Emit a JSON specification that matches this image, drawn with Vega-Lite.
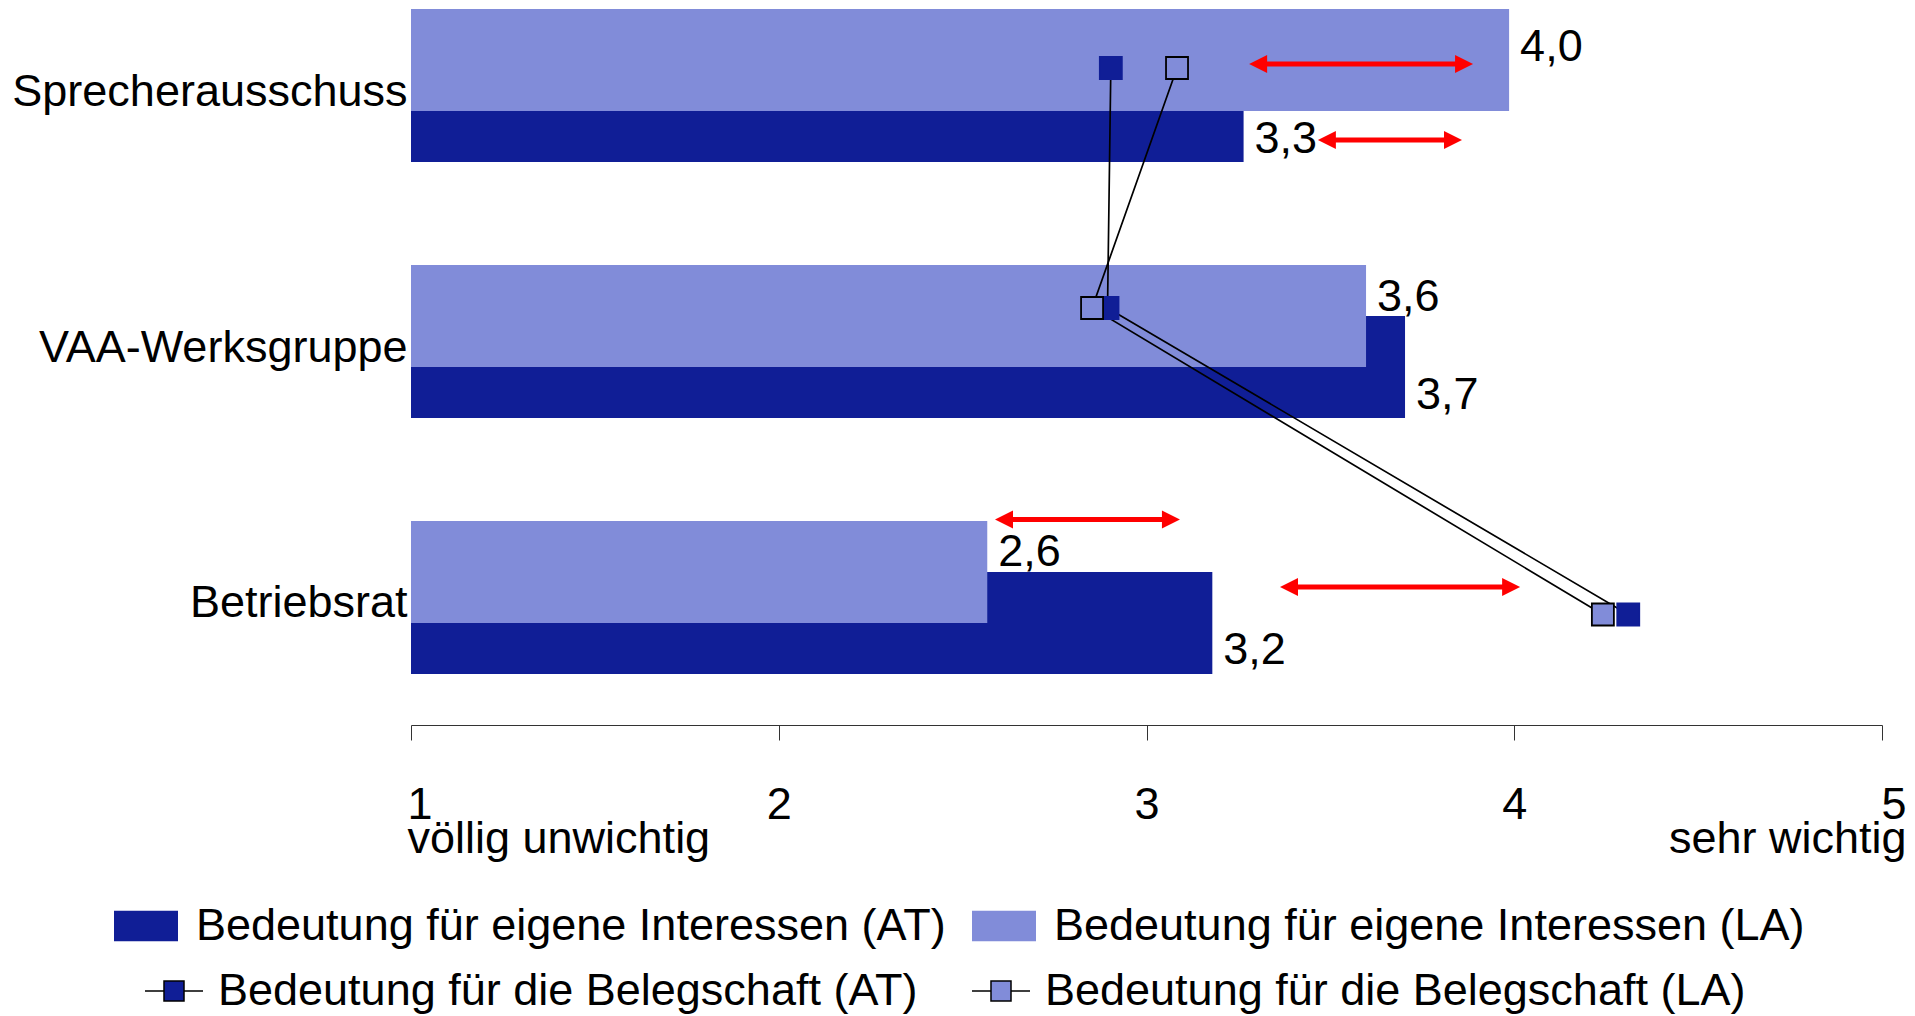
{
  "$schema": "https://vega.github.io/schema/vega-lite/v6.json",
  "width": 1471,
  "height": 683,
  "padding": {"left": 11, "top": 0, "right": 0, "bottom": 0},
  "background": "white",
  "config": {
    "font": "Liberation Sans",
    "view": {"stroke": null},
    "locale": {"number": {"decimal": ",", "thousands": ".", "grouping": [3], "currency": ["", " €"]}}
  },
  "datasets": {
    "interessen": [
      {"cat": "Sprecherausschuss", "grp": "AT", "value": 3.264},
      {"cat": "VAA-Werksgruppe", "grp": "AT", "value": 3.703},
      {"cat": "Betriebsrat", "grp": "AT", "value": 3.179},
      {"cat": "Sprecherausschuss", "grp": "LA", "value": 3.986},
      {"cat": "VAA-Werksgruppe", "grp": "LA", "value": 3.597},
      {"cat": "Betriebsrat", "grp": "LA", "value": 2.567}
    ],
    "belegschaft": [
      {"cat": "Sprecherausschuss", "grp": "AT", "value": 2.903},
      {"cat": "VAA-Werksgruppe", "grp": "AT", "value": 2.894},
      {"cat": "Betriebsrat", "grp": "AT", "value": 4.31},
      {"cat": "Sprecherausschuss", "grp": "LA", "value": 3.083},
      {"cat": "VAA-Werksgruppe", "grp": "LA", "value": 2.852},
      {"cat": "Betriebsrat", "grp": "LA", "value": 4.241}
    ],
    "pfeile": [
      {"cat": "Sprecherausschuss", "grp": "LA", "from": 3.279, "to": 3.888},
      {"cat": "Sprecherausschuss", "grp": "AT", "from": 3.466, "to": 3.858},
      {"cat": "Betriebsrat", "grp": "LA", "from": 2.588, "to": 3.091},
      {"cat": "Betriebsrat", "grp": "AT", "from": 3.363, "to": 4.016}
    ]
  },
  "encoding": {
    "y": {
      "field": "cat", "type": "nominal", "title": null,
      "sort": ["Sprecherausschuss", "VAA-Werksgruppe", "Betriebsrat"],
      "scale": {"type": "band", "paddingInner": 0.5, "paddingOuter": 0.084},
      "axis": {"ticks": false, "tickSize": 0, "domain": false, "labelFontSize": 45, "labelColor": "black", "labelPadding": 4, "labelOffset": 6, "labelLimit": 1000}
    }
  },
  "resolve": {"scale": {"fill": "independent"}, "legend": {"fill": "independent"}},
  "layer": [
    {
      "layer": [
        {
          "data": {"name": "interessen"},
          "transform": [{"filter": "datum.grp === 'AT'"}],
          "mark": {"type": "bar", "size": 102, "yOffset": 25.5},
          "encoding": {
            "x": {
              "field": "value", "type": "quantitative", "title": null,
              "scale": {"domain": [1, 5], "nice": false, "zero": false},
              "axis": {
                "title": null, "values": [1, 2, 3, 4, 5], "format": "d", "grid": false, "offset": 42,
                "domainColor": "#333", "domainWidth": 1, "tickColor": "#333", "tickSize": 15, "tickWidth": 1,
                "labelFontSize": 45, "labelColor": "black", "labelPadding": 42, "labelLineHeight": 34,
                "labelFlush": false, "labelOverlap": false, "labelBound": false, "labelLimit": 1000,
                "labelExpr": "datum.value === 1 ? ['1', 'völlig unwichtig'] : datum.value === 5 ? ['5', 'sehr wichtig'] : datum.label",
                "labelAlign": {"condition": [{"test": "datum.value === 1", "value": "left"}, {"test": "datum.value === 5", "value": "right"}], "value": "center"},
                "labelOffset": {"condition": [{"test": "datum.value === 5", "value": 24}, {"test": "datum.value === 1", "value": -4}], "value": 0}
              }
            },
            "x2": {"datum": 1},
            "fill": {
              "field": "grp", "type": "nominal",
              "scale": {"domain": ["AT", "LA"], "range": ["#101e96", "#818cd9"]},
              "legend": {
                "title": null, "orient": "none", "legendX": -297, "legendY": 894, "direction": "horizontal",
                "symbolType": "M-1,-0.48H1V0.48H-1Z", "symbolSize": 4096, "symbolStrokeWidth": 0,
                "labelFontSize": 45, "labelColor": "black", "labelOffset": 18, "columnPadding": 26, "labelLimit": 2000,
                "labelExpr": "'Bedeutung für eigene Interessen (' + datum.label + ')'"
              }
            }
          }
        },
        {
          "data": {"name": "interessen"},
          "transform": [{"filter": "datum.grp === 'LA'"}],
          "mark": {"type": "bar", "size": 102, "yOffset": -25.5},
          "encoding": {
            "x": {"field": "value", "type": "quantitative", "title": null, "scale": {"domain": [1, 5], "nice": false, "zero": false}},
            "x2": {"datum": 1},
            "fill": {
              "field": "grp", "type": "nominal",
              "scale": {"domain": ["AT", "LA"], "range": ["#101e96", "#818cd9"]},
              "legend": {
                "title": null, "orient": "none", "legendX": -297, "legendY": 894, "direction": "horizontal",
                "symbolType": "M-1,-0.48H1V0.48H-1Z", "symbolSize": 4096, "symbolStrokeWidth": 0,
                "labelFontSize": 45, "labelColor": "black", "labelOffset": 18, "columnPadding": 26, "labelLimit": 2000,
                "labelExpr": "'Bedeutung für eigene Interessen (' + datum.label + ')'"
              }
            }
          }
        }
      ]
    },
    {
      "data": {"name": "interessen"},
      "mark": {
        "type": "text", "align": "left", "baseline": "middle", "dx": 11, "fontSize": 45, "color": "black",
        "yOffset": {"expr": "datum.grp === 'AT' ? 53 : (datum.cat === 'Sprecherausschuss' ? -39 : -45)"}
      },
      "encoding": {
        "x": {"field": "value", "type": "quantitative", "title": null, "scale": {"domain": [1, 5], "nice": false, "zero": false}},
        "text": {"field": "value", "type": "quantitative", "format": ".1f"}
      }
    },
    {
      "data": {"name": "belegschaft"},
      "mark": {
        "type": "line", "color": "black", "strokeWidth": 1.7, "orient": "horizontal",
        "yOffset": {"expr": "datum.cat === 'Sprecherausschuss' ? -17.5 : datum.cat === 'VAA-Werksgruppe' ? -33.5 : 17"}
      },
      "encoding": {
        "x": {"field": "value", "type": "quantitative", "title": null, "scale": {"domain": [1, 5], "nice": false, "zero": false}},
        "detail": {"field": "grp"}
      }
    },
    {
      "data": {"name": "belegschaft"},
      "mark": {
        "type": "point", "shape": "square", "filled": true, "size": 484, "strokeWidth": 1.8, "opacity": 1,
        "yOffset": {"expr": "datum.cat === 'Sprecherausschuss' ? -17.5 : datum.cat === 'VAA-Werksgruppe' ? -33.5 : 17"}
      },
      "encoding": {
        "x": {"field": "value", "type": "quantitative", "title": null, "scale": {"domain": [1, 5], "nice": false, "zero": false}},
        "fill": {
          "field": "grp", "type": "nominal",
          "scale": {"domain": ["AT", "LA"], "range": ["#101e96", "#818cd9"]},
          "legend": {
            "title": null, "orient": "none", "legendX": -267, "legendY": 961, "direction": "horizontal",
            "symbolType": "M-1,0H-0.345M0.345,0H1M-0.345,-0.345H0.345V0.345H-0.345Z", "symbolSize": 3364,
            "symbolStrokeColor": "black", "symbolStrokeWidth": 1.5,
            "labelFontSize": 45, "labelColor": "black", "labelOffset": 14, "columnPadding": 51, "labelLimit": 2000,
            "labelExpr": "'Bedeutung für die Belegschaft (' + datum.label + ')'",
            "encode": {"symbols": {"update": {"stroke": {"value": "black"}, "strokeWidth": {"value": 1.5}}}}
          }
        },
        "stroke": {"condition": {"test": "datum.grp === 'LA'", "value": "black"}, "value": "#101e96"}
      }
    },
    {
      "data": {"name": "pfeile"},
      "mark": {
        "type": "rule", "color": "#ff0000", "strokeWidth": 5, "xOffset": 9, "x2Offset": -9,
        "yOffset": {"expr": "datum.grp === 'LA' ? (datum.cat === 'Sprecherausschuss' ? -21.5 : -78) : (datum.cat === 'Sprecherausschuss' ? 54.5 : -10.5)"}
      },
      "encoding": {
        "x": {"field": "from", "type": "quantitative", "title": null, "scale": {"domain": [1, 5], "nice": false, "zero": false}},
        "x2": {"field": "to"}
      }
    },
    {
      "data": {"name": "pfeile"},
      "mark": {
        "type": "point", "shape": "M-1,0L1,-1L1,1Z", "filled": true, "color": "#ff0000", "size": 324, "opacity": 1, "strokeWidth": 0, "xOffset": 9,
        "yOffset": {"expr": "datum.grp === 'LA' ? (datum.cat === 'Sprecherausschuss' ? -21.5 : -78) : (datum.cat === 'Sprecherausschuss' ? 54.5 : -10.5)"}
      },
      "encoding": {
        "x": {"field": "from", "type": "quantitative", "title": null, "scale": {"domain": [1, 5], "nice": false, "zero": false}}
      }
    },
    {
      "data": {"name": "pfeile"},
      "mark": {
        "type": "point", "shape": "M1,0L-1,-1L-1,1Z", "filled": true, "color": "#ff0000", "size": 324, "opacity": 1, "strokeWidth": 0, "xOffset": -9,
        "yOffset": {"expr": "datum.grp === 'LA' ? (datum.cat === 'Sprecherausschuss' ? -21.5 : -78) : (datum.cat === 'Sprecherausschuss' ? 54.5 : -10.5)"}
      },
      "encoding": {
        "x": {"field": "to", "type": "quantitative", "title": null, "scale": {"domain": [1, 5], "nice": false, "zero": false}}
      }
    }
  ]
}
